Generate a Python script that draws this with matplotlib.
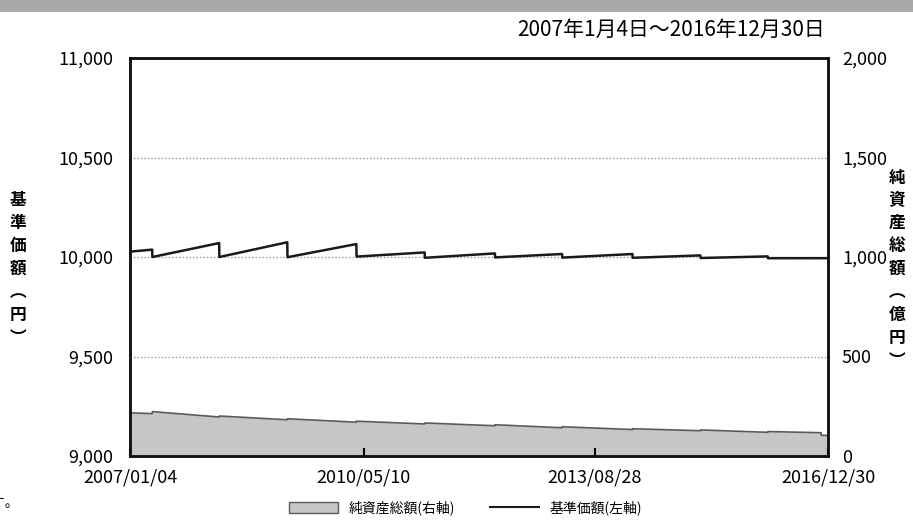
import numpy as np
import matplotlib
matplotlib.use('Agg')
import matplotlib.pyplot as plt
import matplotlib.dates as mdates
from matplotlib.patches import Patch, Rectangle
from matplotlib.lines import Line2D
from datetime import datetime

plt.rcParams['font.family'] = ['Noto Sans CJK JP', 'DejaVu Sans']

# 基準価額 (left axis, yen): start, then (before, after) around each distribution
nav_dates = ['2007-01-04',
             '2007-04-30', '2007-05-01', '2008-04-14', '2008-04-15',
             '2009-04-05', '2009-04-06', '2010-04-01', '2010-04-02',
             '2011-03-24', '2011-03-25', '2012-03-25', '2012-03-26',
             '2013-03-11', '2013-03-12', '2014-03-14', '2014-03-15',
             '2015-03-04', '2015-03-05', '2016-02-19', '2016-02-20',
             '2016-12-30']
nav_values = [10027,
              10037, 10000, 10070, 10000,
              10074, 9999, 10065, 10002,
              10023, 9996, 10018, 9998,
              10015, 9997, 10015, 9996,
              10008, 9995, 10003, 9994,
              9994]

# 純資産総額 (right axis, 億円)
asset_dates = ['2007-01-04',
               '2007-04-30', '2007-05-01', '2008-04-14', '2008-04-15',
               '2009-04-05', '2009-04-06', '2010-04-01', '2010-04-02',
               '2011-03-24', '2011-03-25', '2012-03-25', '2012-03-26',
               '2013-03-11', '2013-03-12', '2014-03-14', '2014-03-15',
               '2015-03-04', '2015-03-05', '2016-02-19', '2016-02-20',
               '2016-11-24', '2016-11-25', '2016-12-30']
asset_values = [217,
                213, 223, 196, 201,
                182, 187, 170, 175,
                161, 166, 152, 157,
                142, 147, 133, 137,
                127, 131, 119, 123,
                117, 104, 103]

xtick_dates = ['2007-01-04', '2010-05-10', '2013-08-28', '2016-12-30']
xtick_labels = ['2007/01/04', '2010/05/10', '2013/08/28', '2016/12/30']
left_ticks = [9000, 9500, 10000, 10500, 11000]
right_ticks = [0, 500, 1000, 1500, 2000]

def to_dt(lst):
    return [datetime.strptime(d, '%Y-%m-%d') for d in lst]

fig = plt.figure(figsize=(9.13, 5.2), dpi=100)
fig.patch.set_facecolor('white')

# gray band at the very top
fig.patches.append(Rectangle((0, 1 - 12/520), 1, 12/520, transform=fig.transFigure,
                             facecolor='#a9a9a9', edgecolor='none'))

ax = fig.add_axes([130/913, 1 - 456/520, 698/913, 398/520])
ax2 = ax.twinx()
ax.set_zorder(ax2.get_zorder() + 1)
ax.patch.set_visible(False)
ax2.set_facecolor('#f8f8f8')

ad = to_dt(asset_dates)
ax2.fill_between(ad, asset_values, 0, color='#c6c6c6', linewidth=0)
ax2.plot(ad, asset_values, color='#5a5a5a', lw=1.2)
ax2.set_ylim(0, 2000)
ax2.set_yticks(right_ticks)
ax2.set_yticklabels(['{:,}'.format(v) for v in right_ticks])

ax.plot(to_dt(nav_dates), nav_values, color='#1a1a1a', lw=1.8)
ax.set_ylim(9000, 11000)
ax.set_yticks(left_ticks)
ax.set_yticklabels(['{:,}'.format(v) for v in left_ticks])
for v in [9500, 10000, 10500]:
    ax.axhline(v, color='#9a9a9a', lw=1, ls=(0, (1, 1.5)), zorder=0)

ax.set_xlim(to_dt(['2007-01-04'])[0], to_dt(['2016-12-30'])[0])
ax.set_xticks(to_dt(xtick_dates))
ax.set_xticklabels(xtick_labels)

ax.tick_params(axis='x', direction='in', length=6, width=1.5, pad=9, labelsize=13)
ax.tick_params(axis='y', length=0, pad=12, labelsize=13)
ax2.tick_params(axis='y', length=0, pad=10, labelsize=13)
for a in (ax, ax2):
    for s in a.spines.values():
        s.set_linewidth(1.8)
        s.set_color('#111111')

# vertical axis titles
ax.text(-112/698, 0.47, '\n'.join('基準価額︵円︶'), transform=ax.transAxes,
        ha='center', va='center', fontsize=12, fontweight='bold', linespacing=1.35)
ax.text(1.099, 0.47, '\n'.join('純資産総額︵億円︶'), transform=ax.transAxes,
        ha='center', va='center', fontsize=12, fontweight='bold', linespacing=1.35)

fig.text(825/913, 1 - 30/520, '2007年1月4日～2016年12月30日', ha='right', va='center',
         fontsize=15)

handles = [Patch(facecolor='#c6c6c6', edgecolor='#5a5a5a', lw=1),
           Line2D([], [], color='#1a1a1a', lw=1.5)]
fig.legend(handles, ['純資産総額(右軸)', '基準価額(左軸)'], loc='center',
           bbox_to_anchor=(0.51, 1 - 508/520), ncol=2, frameon=False,
           fontsize=10, handlelength=3.5, handleheight=0.8, columnspacing=2.5)

fig.text(20/913, 1 - 503/520, 'です。', ha='right', va='center', fontsize=10)

fig.savefig('out.png', dpi=100)
